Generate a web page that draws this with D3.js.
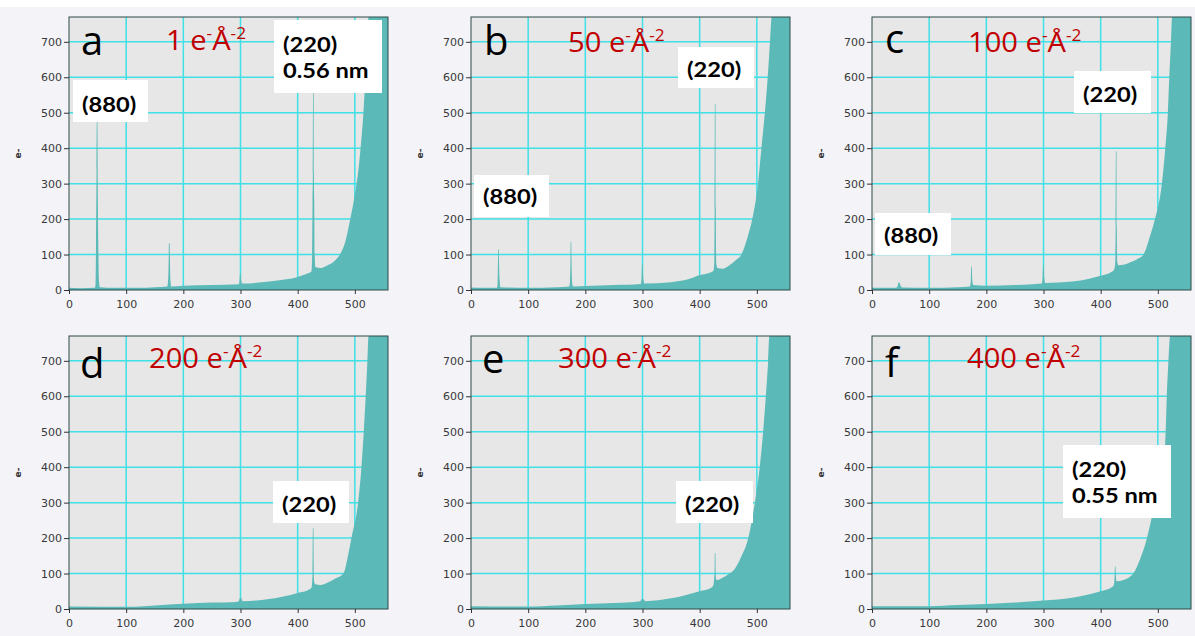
<!DOCTYPE html>
<html>
<head>
<meta charset="utf-8">
<script src="https://cdn.jsdelivr.net/npm/d3@7"></script>
<style>
  body { margin: 0; background: #f4f4f8; }
  svg { display: block; }
</style>
</head>
<body>
<svg id="chart" width="1195" height="636"></svg>
<script>
// Axis ticks
const xTicks = [0, 100, 200, 300, 400, 500];
const yTicks = [0, 100, 200, 300, 400, 500, 600, 700];

const panelLetters = ["a", "b", "c", "d", "e", "f"];
const doses = ["1", "50", "100", "200", "300", "400"];

// Radial profiles: [distance, counts]
const profileA = [[0,6],[20,5],[45,6],[46.5,15],[47.3,136],[48.2,340],[48.7,480],[49.7,480],[50.2,340],[51.2,136],[52.5,25],[54,8],[80,6],[120,6],[150,8],[172,10],[173.5,30],[174.3,80],[174.8,132],[176,132],[176.6,80],[177.5,25],[179,10],[200,12],[250,14],[297,16],[298.5,30],[299.2,47],[300.2,47],[301,28],[303,18],[350,24],[380,30],[400,37],[415,45],[424,52],[425.3,100],[426,249],[426.6,330],[427,560],[428,560],[428.4,330],[429,249],[429.8,100],[431,65],[440,62],[450,68],[460,76],[467,86],[474,100],[484,140],[492,200],[498,250],[503,300],[507,350],[510,400],[515,500],[518.5,600],[522,700],[524,770],[525,800],[558,800]];
const profileB = [[0,7],[20,6],[45,6],[46.5,15],[47.2,80],[47.6,115],[48.6,115],[49,80],[50,30],[51.5,8],[100,6],[150,8],[172,10],[173.3,30],[174,80],[174.4,136],[175.4,136],[175.9,80],[177,20],[178.5,10],[200,11],[250,14],[297,17],[298.5,35],[299.2,72],[300.2,72],[301,40],[303,18],[350,22],[380,30],[400,42],[420,50],[424,54],[425.5,76],[426.2,231],[426.7,525],[427.7,525],[428.2,231],[429,76],[431,62],[440,60],[452,70],[463,84],[473,100],[484,150],[492,200],[502,300],[508,400],[514,500],[519,600],[523,700],[526,770],[527,800],[558,800]];
const profileC = [[0,6],[42,6],[45,12],[46.5,21],[48,21],[50,12],[53,7],[100,6],[150,8],[171,10],[172.8,25],[173.6,66],[174.6,66],[175.4,30],[177,14],[200,12],[250,14],[297,18],[298.5,35],[299.3,69],[300.3,69],[301.2,35],[303,20],[350,24],[380,32],[400,40],[420,52],[424,60],[425.5,80],[426.2,179],[426.7,391],[427.7,391],[428.2,179],[429,80],[431,70],[440,71],[452,78],[465,88],[475,100],[486,150],[495,200],[507,300],[513,400],[517.5,500],[520,600],[523,700],[525,770],[526,800],[558,800]];
const profileD = [[0,7],[100,6],[150,10],[200,15],[250,18],[292,20],[297,22],[299,31],[301,31],[304,22],[350,28],[400,45],[420,55],[424,60],[425.5,80],[426.1,106],[426.6,228],[427.6,228],[428.1,106],[429,75],[431,70],[440,68],[452,74],[466,86],[480,100],[488,150],[494,200],[505.6,300],[511.5,400],[515.6,500],[519,600],[522,700],[524,770],[525,800],[558,800]];
const profileE = [[0,8],[100,7],[150,10],[200,14],[250,17],[296,22],[299,28],[301,28],[305,22],[350,30],[400,50],[420,60],[424,68],[425.5,90],[426.1,101],[426.5,158],[427.5,158],[428,101],[428.8,83],[431,82],[440,88],[450,98],[461,112],[472,145],[485,200],[496.5,300],[505,400],[511,500],[515.7,600],[519.8,700],[522,770],[523,800],[558,800]];
const profileF = [[0,8],[100,8],[150,11],[200,14],[250,18],[300,24],[350,32],[400,50],[420,62],[423,68],[424.5,95],[425,120],[426,120],[426.6,95],[427.5,78],[440,82],[457,100],[470,145],[481,200],[489,257],[500,350],[507,420],[513,468],[515.7,600],[518.6,700],[521.5,770],[522.5,800],[558,800]];
const profiles = [profileA, profileB, profileC, profileD, profileE, profileF];

// Peak labels per panel
const peakNotes = [
    [["(880)"], ["(220)", "0.56 nm"]],
    [["(220)"], ["(880)"]],
    [["(220)"], ["(880)"]],
    [["(220)"]],
    [["(220)"]],
    [["(220)", "0.55 nm"]]
];

// Layout
const cols = [69, 471, 872];
const rows = [17, 336];
const W = 319, H = 273;
const letterPos = [[12, 38], [13, 38], [13, 36], [11, 42], [11, 37], [13, 41]];
const titlePos = [[97, 33], [97, 35], [96, 35], [80, 32], [87, 32], [95, 32]];
// box: [x, y, w, h, textX, first baseline]
const notePos = [
    [[4, 63, 75, 42, 13, 95], [205, 3, 108, 73, 214, 35]],
    [[207, 30, 76, 41, 216, 60], [3, 158, 75, 42, 12, 187]],
    [[202, 54, 77, 42, 211, 85], [3, 196, 76, 42, 12, 226]],
    [[204, 145, 76, 42, 213, 176]],
    [[205, 145, 77, 42, 214, 176]],
    [[191, 109, 108, 73, 200, 141]]
];

const colors = {
    plotBg: "#e7e7e7",
    grid: "#3fe0e6",
    fill: "#5bbab7",
    frame: "#2e4848",
    title: "#c00000"
};

const svg = d3.select("#chart");
svg.append("rect").attr("width", 1195).attr("height", 7).attr("fill", "#fff");

const x = d3.scaleLinear().domain([0, 558]).range([0, W]);
const y = d3.scaleLinear().domain([0, 770]).range([H, 0]).clamp(true);
const area = d3.area().curve(d3.curveMonotoneX).x(d => x(d[0])).y0(H).y1(d => y(d[1]));

profiles.forEach((data, i) => {
    const g = svg.append("g")
        .attr("transform", `translate(${cols[i % 3]},${rows[Math.floor(i / 3)]})`);

    g.append("rect").attr("width", W).attr("height", H).attr("fill", colors.plotBg);

    // grid lines
    g.append("g").selectAll("line").data(xTicks.slice(1)).join("line")
        .attr("x1", d => x(d)).attr("x2", d => x(d)).attr("y1", 0).attr("y2", H)
        .attr("stroke", colors.grid).attr("stroke-width", 1.5);
    g.append("g").selectAll("line").data(yTicks.slice(1)).join("line")
        .attr("y1", d => y(d)).attr("y2", d => y(d)).attr("x1", 0).attr("x2", W)
        .attr("stroke", colors.grid).attr("stroke-width", 1.5);

    g.append("path").datum(data).attr("d", area).attr("fill", colors.fill);

    g.append("rect").attr("width", W).attr("height", H)
        .attr("fill", "none").attr("stroke", colors.frame).attr("stroke-width", 1);

    // axes
    const xa = g.append("g").attr("transform", `translate(0,${H})`)
        .call(d3.axisBottom(x).tickValues(xTicks).tickSize(4).tickPadding(6));
    const ya = g.append("g")
        .call(d3.axisLeft(y).tickValues(yTicks).tickSize(5).tickPadding(2));
    [xa, ya].forEach(a => {
        a.select(".domain").remove();
        a.selectAll("line").attr("stroke", "#333");
        a.selectAll("text").attr("font-family", "DejaVu Sans").attr("font-size", 11).attr("fill", "#383838");
    });

    g.append("text")
        .attr("transform", `translate(-48,${H / 2}) rotate(-90)`)
        .attr("text-anchor", "middle")
        .attr("font-family", "DejaVu Sans").attr("font-size", 9).attr("font-weight", "bold")
        .attr("fill", "#333")
        .text("e-");

    // panel letter
    g.append("text")
        .attr("x", letterPos[i][0]).attr("y", letterPos[i][1])
        .attr("font-family", "Open Sans").attr("font-size", 40).attr("fill", "#000")
        .text(panelLetters[i]);

    // dose title
    const t = g.append("text")
        .attr("transform", `translate(${titlePos[i][0]},${titlePos[i][1]}) scale(1.08,1)`)
        .attr("font-family", "Open Sans").attr("font-size", 27).attr("fill", colors.title);
    t.append("tspan").text(`${doses[i]} e`);
    t.append("tspan").attr("font-size", 16).attr("dy", -11).text("-");
    t.append("tspan").attr("font-size", 27).attr("dy", 11).text("Å");
    t.append("tspan").attr("font-size", 16).attr("dy", -11).text("-2");

    // peak labels
    peakNotes[i].forEach((lines, j) => {
        const [bx, by, bw, bh, tx, ty] = notePos[i][j];
        g.append("rect").attr("x", bx).attr("y", by).attr("width", bw).attr("height", bh).attr("fill", "#fff");
        lines.forEach((s, k) => {
            g.append("text")
                .attr("transform", `translate(${tx},${ty + k * 26}) scale(1.1,1)`)
                .attr("font-family", "Lato").attr("font-size", 21.5).attr("font-weight", "bold").attr("fill", "#000")
                .text(s);
        });
    });
});
</script>
</body>
</html>
